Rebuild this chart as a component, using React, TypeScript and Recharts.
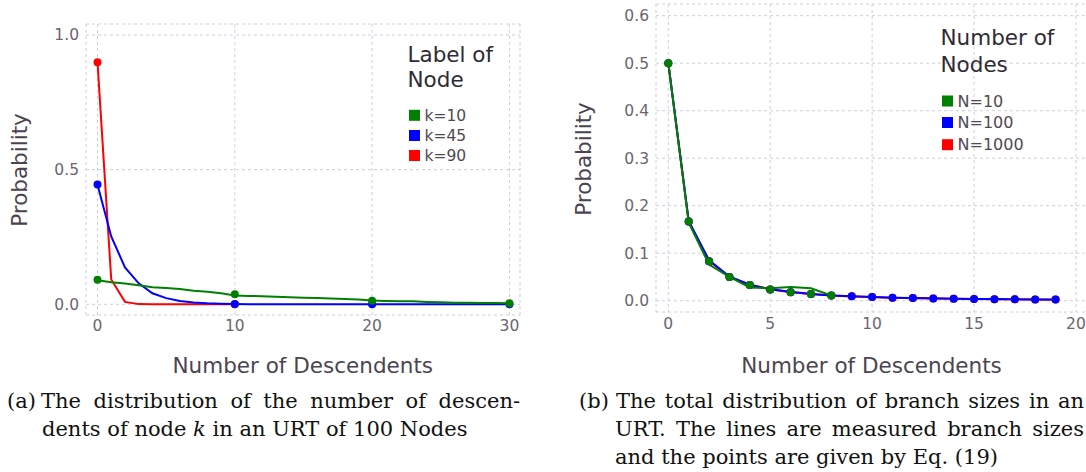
import React from 'react';
import { LineChart, Line, XAxis, YAxis, CartesianGrid } from 'recharts';

const FONT = '"DejaVu Sans", Verdana, sans-serif';
const SERIF = '"DejaVu Serif", "Liberation Serif", serif';
const TICK_COLOR = '#6b6570';
const TITLE_COLOR = '#4b4450';
const LEGEND_TITLE_COLOR = '#2f2a33';
const LEGEND_ITEM_COLOR = '#4f4952';
const GRID_COLOR = '#cfcde2';
const GREEN = '#008000';
const BLUE = '#0000ff';
const RED = '#ff0000';

// ---- (a) descendants of node k in a 100-node URT ----
const descendents = [
  0, 1, 2, 3, 4, 5, 6, 7, 8, 9, 10, 11, 12, 13, 14, 15, 16, 17, 18, 19, 20,
  21, 22, 23, 24, 25, 26, 27, 28, 29, 30,
];
const k10Measured = [
  0.089, 0.082, 0.077, 0.071, 0.063, 0.061, 0.057, 0.05, 0.047, 0.041, 0.033,
  0.031, 0.03, 0.028, 0.026, 0.024, 0.023, 0.022, 0.02, 0.018, 0.014, 0.012,
  0.011, 0.011, 0.009, 0.008, 0.006, 0.006, 0.005, 0.005, 0.004,
];
const k45Measured = [
  0.444, 0.252, 0.137, 0.078, 0.041, 0.023, 0.012, 0.0065, 0.0035, 0.0018,
  0.001, 0.0005, 0.0003, 0.0001, 0, 0, 0, 0, 0, 0, 0, 0, 0, 0, 0, 0, 0, 0, 0,
  0, 0,
];
const k90Descendents = [0, 1, 2, 3, 4, 5, 6, 7, 8, 9, 10];
const k90Measured = [0.899, 0.092, 0.009, 0.0007, 0.0001, 0, 0, 0, 0, 0, 0];

const pointDescendents = [0, 10, 20, 30];
const k10Points = [0.0909, 0.0371, 0.0135, 0.0043];
const k45Points = [0.4444, 0.0009, 0.0, 0.0];
const k90PointDescendents = [0, 10];
const k90Points = [0.899, 0.0];

const aXTicks = [0, 10, 20, 30];
const aYTicks = [0, 0.5, 1];
const aLegend = [
  { name: 'k=10', color: GREEN },
  { name: 'k=45', color: BLUE },
  { name: 'k=90', color: RED },
];

// ---- (b) total distribution of branch sizes ----
const branchSize = [
  0, 1, 2, 3, 4, 5, 6, 7, 8, 9, 10, 11, 12, 13, 14, 15, 16, 17, 18, 19,
];
const n10Size = [0, 1, 2, 3, 4, 5, 6, 7, 8];
const n10Measured = [0.5, 0.164, 0.076, 0.05, 0.028, 0.026, 0.029, 0.026, 0.011];
const n100Measured = [
  0.5, 0.168, 0.085, 0.051, 0.033, 0.024, 0.019, 0.014, 0.011, 0.0093, 0.0078,
  0.0064, 0.0056, 0.0049, 0.0043, 0.0038, 0.0034, 0.003, 0.0027, 0.0025,
];
const n1000Measured = [
  0.5, 0.167, 0.084, 0.05, 0.034, 0.024, 0.018, 0.014, 0.011, 0.009, 0.0076,
  0.0063, 0.0054, 0.0046, 0.004, 0.0035, 0.0031, 0.0027, 0.0024, 0.0021,
];
const n10Points = [0.5, 0.1667, 0.0833, 0.05, 0.0333, 0.0238, 0.0179, 0.0139, 0.0111];
const n100Points = [
  0.5, 0.1667, 0.0833, 0.05, 0.0333, 0.0238, 0.0179, 0.0139, 0.0111, 0.0091,
  0.0076, 0.0064, 0.0055, 0.0048, 0.0042, 0.0037, 0.0033, 0.0029, 0.0026,
  0.0024,
];
const n1000Points = [
  0.5, 0.1667, 0.0833, 0.05, 0.0333, 0.0238, 0.0179, 0.0139, 0.0111, 0.0091,
  0.0076, 0.0064, 0.0055, 0.0048, 0.0042, 0.0037, 0.0033, 0.0029, 0.0026,
  0.0024,
];

const bXTicks = [0, 5, 10, 15, 20];
const bYTicks = [0, 0.1, 0.2, 0.3, 0.4, 0.5, 0.6];
const bLegend = [
  { name: 'N=10', color: GREEN },
  { name: 'N=100', color: BLUE },
  { name: 'N=1000', color: RED },
];

const rows = (xs: number[], ys: number[]) => ys.map((y, i) => ({ x: xs[i], y }));

const tickStyle = { fill: TICK_COLOR, fontSize: 15.5, fontFamily: FONT };

function MeasuredLine({ data, color }: { data: { x: number; y: number }[]; color: string }) {
  return (
    <Line
      data={data}
      dataKey="y"
      type="linear"
      stroke={color}
      strokeWidth={2}
      dot={false}
      activeDot={false}
      isAnimationActive={false}
    />
  );
}

function PointSeries({ data, color }: { data: { x: number; y: number }[]; color: string }) {
  return (
    <Line
      data={data}
      dataKey="y"
      stroke="none"
      dot={{ r: 4, fill: color, stroke: color, strokeWidth: 0 }}
      activeDot={false}
      isAnimationActive={false}
    />
  );
}

function PanelA() {
  return (
    <LineChart width={540} height={390} margin={{ top: 24, right: 20, bottom: 0, left: 0 }}>
      <CartesianGrid stroke={GRID_COLOR} strokeDasharray="3 3" />
      <XAxis
        type="number"
        dataKey="x"
        domain={[-0.838, 30.77]}
        allowDataOverflow
        ticks={aXTicks}
        interval={0}
        axisLine={false}
        tickLine={false}
        tickSize={0}
        tickMargin={5}
        height={75}
        tick={tickStyle}
      />
      <YAxis
        type="number"
        domain={[-0.0397, 1.0408]}
        allowDataOverflow
        ticks={aYTicks}
        interval={0}
        tickFormatter={(v: number) => v.toFixed(1)}
        axisLine={false}
        tickLine={false}
        tickSize={0}
        tickMargin={7}
        width={86}
        tick={tickStyle}
      />
      <MeasuredLine data={rows(k90Descendents, k90Measured)} color={RED} />
      <MeasuredLine data={rows(descendents, k45Measured)} color={BLUE} />
      <MeasuredLine data={rows(descendents, k10Measured)} color={GREEN} />
      <PointSeries data={rows(k90PointDescendents, k90Points)} color={RED} />
      <PointSeries data={rows(pointDescendents, k45Points)} color={BLUE} />
      <PointSeries data={rows(pointDescendents, k10Points)} color={GREEN} />
    </LineChart>
  );
}

function PanelB() {
  return (
    <LineChart width={560} height={390} margin={{ top: 4, right: 0, bottom: 0, left: 0 }}>
      <CartesianGrid stroke={GRID_COLOR} strokeDasharray="3 3" />
      <XAxis
        type="number"
        dataKey="x"
        domain={[-0.604, 21.18]}
        allowDataOverflow
        ticks={bXTicks}
        interval={0}
        axisLine={false}
        tickLine={false}
        tickSize={0}
        tickMargin={6}
        height={78}
        tick={tickStyle}
      />
      <YAxis
        type="number"
        domain={[-0.0238, 0.6246]}
        allowDataOverflow
        ticks={bYTicks}
        interval={0}
        tickFormatter={(v: number) => v.toFixed(1)}
        axisLine={false}
        tickLine={false}
        tickSize={0}
        tickMargin={7}
        width={116}
        tick={tickStyle}
      />
      <MeasuredLine data={rows(branchSize, n1000Measured)} color={RED} />
      <MeasuredLine data={rows(branchSize, n100Measured)} color={BLUE} />
      <MeasuredLine data={rows(n10Size, n10Measured)} color={GREEN} />
      <PointSeries data={rows(branchSize, n1000Points)} color={RED} />
      <PointSeries data={rows(branchSize, n100Points)} color={BLUE} />
      <PointSeries data={rows(n10Size, n10Points)} color={GREEN} />
    </LineChart>
  );
}

function LegendBlock({
  x,
  titleLines,
  titleBaselines,
  items,
  rowCenters,
  itemSize,
}: {
  x: number;
  titleLines: string[];
  titleBaselines: number[];
  items: { name: string; color: string }[];
  rowCenters: number[];
  itemSize: number;
}) {
  return (
    <g fontFamily={FONT}>
      {titleLines.map((t, i) => (
        <text key={t} x={x - 1.5} y={titleBaselines[i]} fontSize={21.5} fill={LEGEND_TITLE_COLOR}>
          {t}
        </text>
      ))}
      {items.map((it, i) => (
        <g key={it.name}>
          <rect x={x} y={rowCenters[i] - 5.5} width={11} height={11} fill={it.color} />
          <text x={x + 15.5} y={rowCenters[i] + 5.6} fontSize={itemSize} fill={LEGEND_ITEM_COLOR}>
            {it.name}
          </text>
        </g>
      ))}
    </g>
  );
}

function Overlay() {
  return (
    <svg
      width={1086}
      height={472}
      style={{ position: 'absolute', left: 0, top: 0, pointerEvents: 'none' }}
    >
      {/* axis titles */}
      <g fontFamily={FONT} fontSize={21.5} fill={TITLE_COLOR}>
        <text transform="translate(27,170) rotate(-90)" textAnchor="middle">
          Probability
        </text>
        <text transform="translate(590.5,159) rotate(-90)" textAnchor="middle">
          Probability
        </text>
        <text x={302.8} y={373.3} textAnchor="middle">
          Number of Descendents
        </text>
        <text x={871.5} y={373.3} textAnchor="middle">
          Number of Descendents
        </text>
      </g>

      <LegendBlock
        x={409}
        titleLines={['Label of', 'Node']}
        titleBaselines={[62.3, 87.3]}
        items={aLegend}
        rowCenters={[115.3, 135.5, 155.5]}
        itemSize={15.5}
      />
      <LegendBlock
        x={942}
        titleLines={['Number of', 'Nodes']}
        titleBaselines={[45, 71.7]}
        items={bLegend}
        rowCenters={[101, 122.5, 144.7]}
        itemSize={16}
      />
    </svg>
  );
}

// Caption line: absolutely placed, optionally justified to a fixed width.
function CaptionLine({
  left,
  top,
  width,
  justify,
  children,
}: {
  left: number;
  top: number;
  width?: number;
  justify?: boolean;
  children: React.ReactNode;
}) {
  return (
    <div
      style={{
        position: 'absolute',
        left,
        top,
        width,
        whiteSpace: 'nowrap',
        textAlign: justify ? 'justify' : 'left',
        textAlignLast: justify ? 'justify' : 'auto',
        fontFamily: SERIF,
        fontSize: 21,
        lineHeight: '28px',
        color: '#111',
      }}
    >
      {children}
    </div>
  );
}

function Captions() {
  const row1 = 387;
  const row2 = row1 + 28;
  const row3 = row2 + 28;
  return (
    <>
      <CaptionLine left={7} top={row1}>(a)</CaptionLine>
      <CaptionLine left={41} top={row1} width={479} justify>
        The distribution of the number of descen-
      </CaptionLine>
      <CaptionLine left={42} top={row2}>
        dents of node <i>k</i> in an URT of 100 Nodes
      </CaptionLine>

      <CaptionLine left={579} top={row1}>(b)</CaptionLine>
      <CaptionLine left={616} top={row1} width={468} justify>
        The total distribution of branch sizes in an
      </CaptionLine>
      <CaptionLine left={615} top={row2} width={469} justify>
        URT. The lines are measured branch sizes
      </CaptionLine>
      <CaptionLine left={615} top={row3}>
        and the points are given by Eq. (19)
      </CaptionLine>
    </>
  );
}

export default function App() {
  return (
    <div
      style={{
        position: 'fixed',
        left: 0,
        top: 0,
        width: 1086,
        height: 472,
        overflow: 'hidden',
        background: '#ffffff',
      }}
    >
      <div style={{ position: 'absolute', left: 0, top: 0 }}>
        <PanelA />
      </div>
      <div style={{ position: 'absolute', left: 540, top: 0 }}>
        <PanelB />
      </div>
      <Overlay />
      <Captions />
    </div>
  );
}
